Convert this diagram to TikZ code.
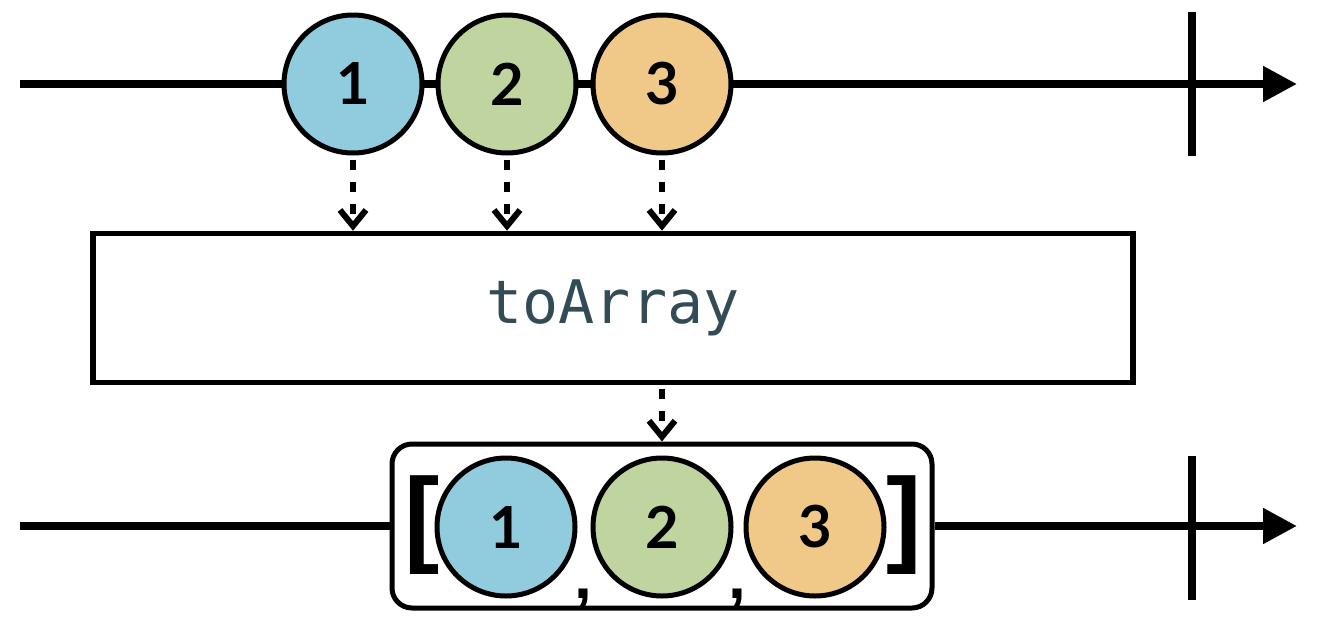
\documentclass[tikz,border=0pt]{standalone}
\usepackage{fontspec}
\setmainfont{Lato}
\newfontfamily\monofont{DejaVu Sans Mono}
\newfontfamily\brfont{Liberation Sans}
\usetikzlibrary{arrows.meta}
\definecolor{cblue}{RGB}{144,203,222}
\definecolor{cgreen}{RGB}{192,212,160}
\definecolor{corange}{RGB}{240,200,135}
\definecolor{optext}{RGB}{50,75,85}
\tikzset{
  timeline/.style={line width=4pt, -{Triangle[length=17pt,width=17pt]}},
  plainline/.style={line width=4pt},
  endtick/.style={line width=4pt},
  marble/.style={circle, draw=black, line width=2.5pt, minimum size=69pt, inner sep=0pt,
     font=\bfseries\fontsize{29}{29}\selectfont},
  opbox/.style={draw=black, fill=white, line width=2.75pt, minimum width=520pt, minimum height=74.5pt,
     inner sep=0pt, text=optext, font=\monofont\fontsize{30}{30}\selectfont},
  resbox/.style={draw=black, fill=white, line width=2.5pt, rounded corners=10pt,
     minimum width=270pt, minimum height=82pt, inner sep=0pt},
  dasharrow/.style={line width=3pt, dash pattern=on 5pt off 6pt,
     -{Straight Barb[length=8pt,width=13pt,line width=3pt]}},
  bracket/.style={inner sep=0pt, font=\brfont\bfseries\fontsize{53}{53}\selectfont},
  commamark/.style={inner sep=0pt, anchor=base, font=\brfont\bfseries\fontsize{32}{32}\selectfont}
}
\begin{document}
\begin{tikzpicture}[x=0.5pt, y=-0.5pt]
\useasboundingbox (0,0) rectangle (1318,632);
% top timeline
\coordinate (ts) at (20,84);
\coordinate (te) at (1297,84);
\coordinate (tt1) at (1192,12);
\coordinate (tt2) at (1192,156);
\draw[timeline] (ts) -- (te);
\draw[endtick] (tt1) -- (tt2);
\node[marble, fill=cblue] (a1) at (353,84) {1};
\node[marble, fill=cgreen] (a2) at (507,84) {2};
\node[marble, fill=corange] (a3) at (662,84) {3};
% operator box
\node[opbox] (op) at (613,308) {toArray};
\draw[dasharrow] ([yshift=-2pt]a1.south) -- (a1.south |- op.north);
\draw[dasharrow] ([yshift=-2pt]a2.south) -- (a2.south |- op.north);
\draw[dasharrow] ([yshift=-2pt]a3.south) -- (a3.south |- op.north);
% result
\node[resbox] (res) at (662,526) {};
\coordinate (bs) at (20,526);
\coordinate (be) at (1297,526);
\coordinate (bt1) at (1192,456);
\coordinate (bt2) at (1192,600);
\draw[plainline] (bs) -- (res.west);
\draw[timeline] (res.east) -- (be);
\draw[endtick] (bt1) -- (bt2);
\draw[dasharrow] ([yshift=-2pt]a3.south |- op.south) -- (a3.south |- res.north);
\node[bracket] (lb) at (422,525) {[};
\node[bracket] (rb) at (904,525) {]};
\node[marble, fill=cblue] (b1) at (506,527) {1};
\node[marble, fill=cgreen] (b2) at (662,527) {2};
\node[marble, fill=corange] (b3) at (815,527) {3};
\node[commamark] (cm1) at (583,598) {,};
\node[commamark] (cm2) at (737,598) {,};
\end{tikzpicture}
\end{document}
